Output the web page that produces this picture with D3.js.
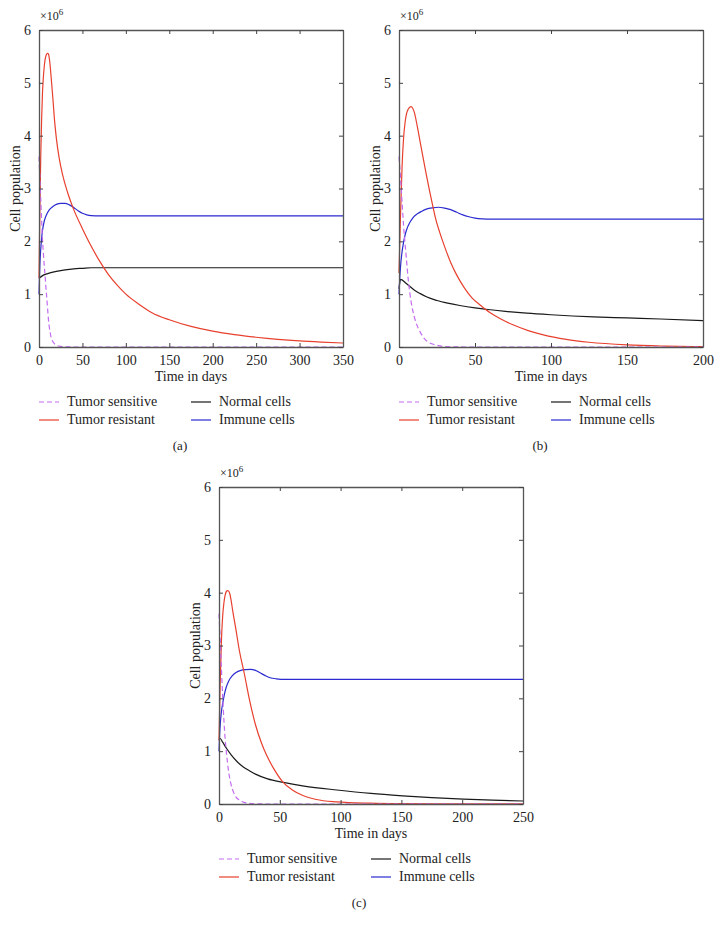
<!DOCTYPE html>
<html><head><meta charset="utf-8">
<script src="https://cdn.jsdelivr.net/npm/d3@7"></script>
<style>
html,body{margin:0;padding:0;background:#fff;}
</style></head>
<body><svg id="chart" width="720" height="930"></svg>
<script>
// ---------- data (values in units of 10^6 cells) ----------
const yTicks = [0,1,2,3,4,5,6];
const xTicksA = [0,50,100,150,200,250,300,350];
const xTicksB = [0,50,100,150,200];
const xTicksC = [0,50,100,150,200,250];
const legendLabels = ["Tumor sensitive","Tumor resistant","Normal cells","Immune cells"];
const panelLabels = ["(a)","(b)","(c)"];

// Panel (a)
const sensitiveA = [[0,3.6],[1,3.2],[2,2.8],[3,2.4],[4,2.05],[5,1.78],[6,1.55],[7,1.35],[8,1.12],[9,0.92],[10,0.7],[11,0.5],[12,0.36],[13,0.26],[14,0.18],[16,0.1],[18,0.06],[20,0.035],[25,0.012],[30,0.004],[40,0],[350,0]];
const resistantA = [[0,1.3],[1,2.6],[2,3.6],[3,4.3],[4,4.8],[5,5.1],[6,5.3],[7,5.44],[8,5.51],[9,5.55],[10,5.56],[11,5.54],[12,5.45],[13,5.3],[14,5.1],[16,4.7],[18,4.27],[20,3.95],[23,3.6],[27,3.27],[33,2.92],[40,2.6],[50,2.24],[60,1.91],[70,1.62],[80,1.37],[90,1.17],[100,1.0],[115,0.81],[130,0.65],[150,0.515],[175,0.39],[200,0.3],[225,0.235],[250,0.185],[275,0.145],[300,0.115],[325,0.093],[350,0.075]];
const normalA = [[0,1.3],[5,1.36],[10,1.39],[20,1.43],[30,1.46],[40,1.48],[50,1.49],[60,1.5],[100,1.5],[350,1.5]];
const immuneA = [[0,1.0],[0.5,1.3],[1,1.55],[2,1.85],[3,2.05],[4,2.2],[6,2.38],[8,2.48],[12,2.6],[16,2.66],[20,2.7],[25,2.72],[30,2.72],[35,2.69],[40,2.64],[45,2.58],[50,2.53],[55,2.5],[60,2.485],[70,2.48],[350,2.48]];

// Panel (b)
const sensitiveB = [[0,3.6],[1,3.2],[2,2.75],[3,2.3],[4,1.95],[5,1.62],[6,1.3],[7,1.05],[8,0.85],[10,0.58],[12,0.4],[14,0.28],[17,0.15],[20,0.08],[24,0.04],[28,0.015],[35,0.004],[45,0],[200,0]];
const resistantB = [[0,1.4],[1,2.5],[2,3.4],[3,3.95],[4,4.25],[5,4.42],[6,4.5],[7,4.54],[8,4.55],[9,4.52],[10,4.45],[12,4.18],[14,3.87],[16,3.56],[18,3.26],[20,2.97],[22,2.7],[24,2.44],[27,2.15],[30,1.9],[34,1.6],[38,1.36],[43,1.12],[48,0.93],[54,0.78],[57,0.71],[60,0.65],[67,0.53],[75,0.42],[85,0.31],[95,0.23],[110,0.145],[125,0.09],[150,0.04],[175,0.018],[200,0.008]];
const normalB = [[0,1.1],[0.5,1.22],[1,1.28],[2,1.27],[4,1.22],[7,1.15],[10,1.08],[14,1.01],[18,0.95],[25,0.88],[32,0.83],[40,0.785],[50,0.74],[57,0.715],[70,0.675],[84,0.64],[100,0.61],[128,0.57],[150,0.55],[172,0.53],[200,0.5]];
const immuneB = [[0,1.0],[0.5,1.3],[1,1.52],[2,1.8],[3,1.98],[4,2.12],[5,2.22],[7,2.35],[9,2.44],[12,2.52],[15,2.57],[18,2.61],[22,2.635],[26,2.645],[30,2.63],[34,2.6],[38,2.55],[42,2.5],[46,2.465],[50,2.44],[55,2.425],[60,2.42],[200,2.42]];

// Panel (c)
const sensitiveC = [[0,3.6],[1,3.1],[2,2.55],[3,2.05],[4,1.6],[5,1.25],[6,1.0],[7,0.78],[8,0.6],[10,0.36],[12,0.22],[14,0.13],[17,0.07],[20,0.035],[25,0.012],[30,0.004],[40,0],[250,0]];
const resistantC = [[0,1.2],[1,2.3],[2,3.1],[3,3.55],[4,3.8],[5,3.95],[6,4.02],[7,4.04],[8,4.03],[9,3.97],[10,3.85],[11.2,3.67],[14,3.29],[16.7,2.91],[20.8,2.47],[25,1.98],[30,1.5],[35,1.15],[39,0.93],[45,0.67],[52.4,0.42],[60,0.27],[69,0.16],[80,0.085],[97,0.04],[124,0.015],[150,0.006],[200,0.002],[250,0.001]];
const normalC = [[0,1.22],[1,1.24],[3,1.17],[6,1.06],[10,0.93],[15,0.8],[20,0.7],[25,0.63],[30,0.565],[40,0.475],[53,0.41],[70,0.34],[97,0.265],[125,0.2],[151,0.155],[175,0.12],[201,0.092],[225,0.072],[250,0.057]];
const immuneC = [[0,1.0],[0.5,1.3],[1,1.5],[2,1.75],[3,1.9],[4.5,2.08],[5.8,2.2],[8,2.33],[11,2.43],[14,2.49],[18,2.53],[22,2.545],[26,2.55],[30,2.53],[34,2.48],[38,2.43],[42,2.39],[47,2.37],[55,2.36],[250,2.36]];

// ---------- drawing ----------
const FONT = "'Liberation Serif','Times New Roman','DejaVu Serif',serif";
const svg = d3.select("#chart").style("font-family", FONT);
const colors = {sens:"#c46cf0", res:"#e8402e", norm:"#1a1a1a", imm:"#2b2bd0"};

const panels = [
  {x0:39, y0:30, xMax:350, xTicks:xTicksA, data:[sensitiveA,resistantA,normalA,immuneA], label:panelLabels[0], lx:180, ly:450},
  {x0:399, y0:30, xMax:200, xTicks:xTicksB, data:[sensitiveB,resistantB,normalB,immuneB], label:panelLabels[1], lx:540, ly:450},
  {x0:219, y0:487, xMax:250, xTicks:xTicksC, data:[sensitiveC,resistantC,normalC,immuneC], label:panelLabels[2], lx:359, ly:907}
];
const W = 304, H = 317;

function txt(sel, size) {
  return sel.style("font-family", FONT).style("font-size", size + "px").attr("fill", "#222");
}

panels.forEach(p => {
  const g = svg.append("g").attr("transform",`translate(${p.x0},${p.y0})`);
  const x = d3.scaleLinear().domain([0,p.xMax]).range([0,W]);
  const y = d3.scaleLinear().domain([0,6]).range([H,0]);

  const line = d3.line().x(d=>x(d[0])).y(d=>y(d[1])).curve(d3.curveMonotoneX);
  const styles = [
    {c:colors.sens, dash:"5,3"},
    {c:colors.res, dash:null},
    {c:colors.norm, dash:null},
    {c:colors.imm, dash:null}
  ];
  [2,3,1,0].forEach(i => {
    g.append("path").datum(p.data[i]).attr("d",line)
      .attr("fill","none").attr("stroke",styles[i].c)
      .attr("stroke-width",1.2)
      .attr("stroke-dasharray",styles[i].dash);
  });

  const axStyle = sel => { sel.attr("font-family", null).attr("font-size", null);
    sel.select(".domain").attr("stroke","#555").attr("stroke-width",1.3);
    sel.selectAll(".tick line").attr("stroke","#444"); };
  g.append("g").attr("transform",`translate(0,${H})`)
    .call(d3.axisBottom(x).tickValues(p.xTicks).tickSize(-4).tickSizeOuter(0).tickPadding(8).tickFormat(d3.format("d")))
    .call(axStyle).call(s=>txt(s.selectAll("text"), 14));
  g.append("g")
    .call(d3.axisTop(x).tickValues(p.xTicks).tickSize(-4).tickSizeOuter(0).tickFormat(""))
    .call(axStyle);
  g.append("g")
    .call(d3.axisLeft(y).tickValues(yTicks).tickSize(-4).tickSizeOuter(0).tickPadding(8).tickFormat(d3.format("d")))
    .call(axStyle).call(s=>txt(s.selectAll("text"), 14));
  g.append("g").attr("transform",`translate(${W},0)`)
    .call(d3.axisRight(y).tickValues(yTicks).tickSize(-4).tickSizeOuter(0).tickFormat(""))
    .call(axStyle);

  const m = txt(g.append("text").attr("x",1).attr("y",-10), 12);
  m.append("tspan").text("×10");
  m.append("tspan").attr("dy",-5).style("font-size","9px").text("6");

  txt(g.append("text").attr("x",W/2).attr("y",H+34).attr("text-anchor","middle"), 14).text("Time in days");
  txt(g.append("text").attr("transform",`translate(-19,${H/2}) rotate(-90)`).attr("text-anchor","middle"), 14).text("Cell population");

  const leg = [
    {i:0, dx:0, dy:H+59},
    {i:2, dx:152, dy:H+59},
    {i:1, dx:0, dy:H+77},
    {i:3, dx:152, dy:H+77}
  ];
  leg.forEach(l => {
    const st = styles[l.i];
    g.append("line").attr("x1",l.dx).attr("x2",l.dx+20).attr("y1",l.dy-4).attr("y2",l.dy-4)
      .attr("stroke",st.c).attr("stroke-width",1.2).attr("stroke-dasharray",st.dash);
    txt(g.append("text").attr("x",l.dx+28).attr("y",l.dy), 14).text(legendLabels[l.i]);
  });

  txt(svg.append("text").attr("x",p.lx).attr("y",p.ly).attr("text-anchor","middle"), 13).text(p.label);
});
</script></body></html>
